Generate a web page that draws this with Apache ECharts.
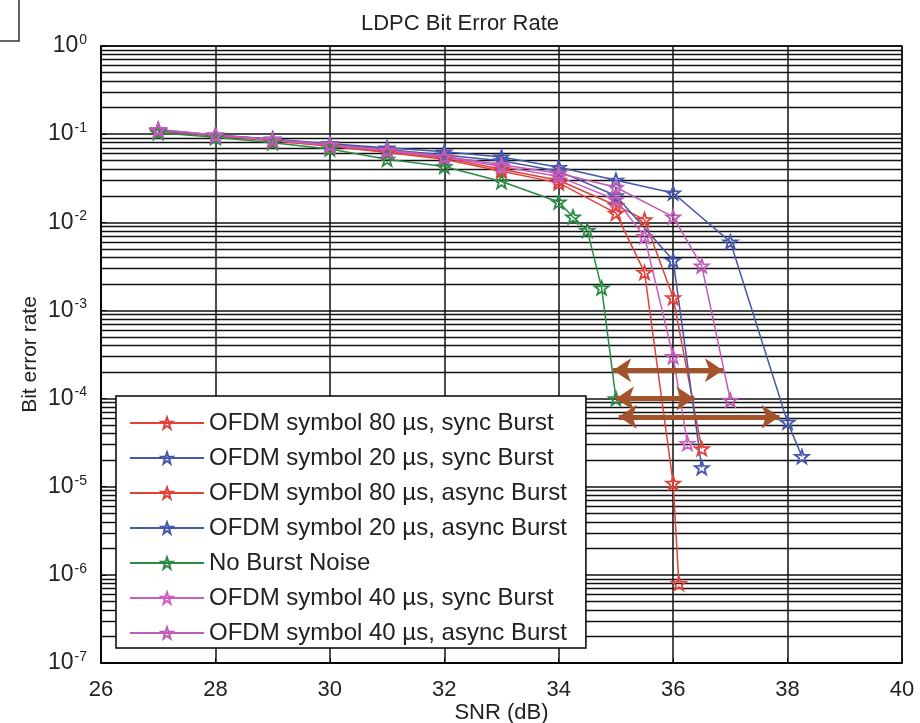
<!DOCTYPE html>
<html>
<head>
<meta charset="utf-8">
<script src="https://cdn.jsdelivr.net/npm/echarts@6/dist/echarts.min.js"></script>
<style>
  html, body { margin: 0; padding: 0; background: #fff; }
  #chart { width: 920px; height: 723px; }
</style>
</head>
<body>
<div id="chart"></div>
<script>
// series names (legend order)
var seriesNames = [
  'OFDM symbol 80 \u00b5s, sync Burst',
  'OFDM symbol 20 \u00b5s, sync Burst',
  'OFDM symbol 80 \u00b5s, async Burst',
  'OFDM symbol 20 \u00b5s, async Burst',
  'No Burst Noise',
  'OFDM symbol 40 \u00b5s, sync Burst',
  'OFDM symbol 40 \u00b5s, async Burst'
];
var seriesColors = ['#e2413a', '#4757ab', '#e2413a', '#4757ab', '#2b8a45', '#cc5ec2', '#c05cb6'];

// SNR (dB) values per curve
var snr80sync  = [27, 28, 29, 30, 31, 32, 33, 34, 35, 35.5, 36, 36.1];
var snr20sync  = [27, 28, 29, 30, 31, 32, 33, 34, 35, 36, 37, 38, 38.25];
var snr80async = [27, 28, 29, 30, 31, 32, 33, 34, 35, 35.5, 36, 36.5];
var snr20async = [27, 28, 29, 30, 31, 32, 33, 34, 35, 36, 36.5];
var snrNoBurst = [27, 28, 29, 30, 31, 32, 33, 34, 34.25, 34.5, 34.75, 35];
var snr40sync  = [27, 28, 29, 30, 31, 32, 33, 34, 35, 35.5, 36, 36.25];
var snr40async = [27, 28, 29, 30, 31, 32, 33, 34, 35, 36, 36.5, 37];

// bit error rate per curve
var ber80sync  = [0.108, 0.095, 0.084, 0.073, 0.062, 0.052, 0.038, 0.028, 0.0127, 0.0027, 1.1e-5, 8e-7];
var ber20sync  = [0.112, 0.098, 0.088, 0.078, 0.070, 0.063, 0.055, 0.042, 0.030, 0.0215, 0.006, 5.4e-5, 2.2e-5];
var ber80async = [0.110, 0.096, 0.085, 0.074, 0.063, 0.054, 0.040, 0.030, 0.0155, 0.0107, 0.0014, 2.7e-5];
var ber20async = [0.110, 0.097, 0.087, 0.077, 0.067, 0.058, 0.050, 0.038, 0.020, 0.0037, 1.65e-5];
var berNoBurst = [0.104, 0.092, 0.080, 0.068, 0.052, 0.043, 0.029, 0.017, 0.0115, 0.0081, 0.0018, 1.0e-4];
var ber40sync  = [0.112, 0.097, 0.086, 0.075, 0.065, 0.055, 0.043, 0.033, 0.018, 0.0069, 3.0e-4, 3.1e-5];
var ber40async = [0.113, 0.098, 0.087, 0.076, 0.066, 0.056, 0.045, 0.036, 0.025, 0.0115, 0.0032, 9.6e-5];

var snrList = [snr80sync, snr20sync, snr80async, snr20async, snrNoBurst, snr40sync, snr40async];
var berList = [ber80sync, ber20sync, ber80async, ber20async, berNoBurst, ber40sync, ber40async];

// brown double arrows: [snrStart, snrEnd, ber]
var arrowLines = [
  [34.95, 36.87, 2.1e-4],
  [35.0, 36.37, 1.0e-4],
  [35.05, 37.86, 6.2e-5]
];

var snrMin = 26, snrMax = 40;

var starPath = 'path://M0,-10L2.35,-3.24L9.51,-3.09L3.8,1.24L5.88,8.09L0,4L-5.88,8.09L-3.8,1.24L-9.51,-3.09L-2.35,-3.24Z';

var chart = echarts.init(document.getElementById('chart'));

// minor log grid lines (2..9 of each decade), drawn through the axes
var minorLines = [];
for (var k = -7; k <= -1; k++) {
  for (var m = 2; m <= 9; m++) {
    var v = m * Math.pow(10, k);
    minorLines.push({ coords: [[snrMin, v], [snrMax, v]] });
  }
}

var series = [];
series.push({
  name: 'minor grid',
  type: 'lines',
  coordinateSystem: 'cartesian2d',
  silent: true,
  z: 1,
  lineStyle: { color: '#111', width: 1.4, opacity: 1 },
  data: minorLines
});

for (var i = 0; i < seriesNames.length; i++) {
  var pts = [];
  for (var j = 0; j < snrList[i].length; j++) {
    pts.push([snrList[i][j], berList[i][j]]);
  }
  series.push({
    name: seriesNames[i],
    type: 'line',
    data: pts,
    z: 3,
    color: seriesColors[i],
    symbol: starPath,
    symbolSize: 14,
    symbolKeepAspect: true,
    showAllSymbol: true,
    lineStyle: { color: seriesColors[i], width: 1.5 },
    itemStyle: { color: 'rgba(255,255,255,0)', borderColor: seriesColors[i], borderWidth: 1.8 }
  });
}

// arrows
series.push({
  name: 'arrows',
  type: 'lines',
  coordinateSystem: 'cartesian2d',
  silent: true,
  z: 5,
  symbol: ['arrow', 'arrow'],
  symbolSize: 18,
  lineStyle: { color: '#a3532a', width: 5, opacity: 1 },
  data: arrowLines.map(function (a) {
    return { coords: [[a[0], a[2]], [a[1], a[2]]] };
  })
});

var option = {
  animation: false,
  backgroundColor: '#fff',
  textStyle: { fontFamily: 'Liberation Sans, Arial, sans-serif' },
  title: {
    text: 'LDPC Bit Error Rate',
    left: 'center',
    top: 8,
    textStyle: { fontSize: 22, fontWeight: 'normal', color: '#222' }
  },
  grid: {
    left: 101, right: 18, top: 46, bottom: 60,
    outerBoundsMode: 'none',
    show: true, borderColor: '#000', borderWidth: 1.5
  },
  legend: {
    data: seriesNames,
    orient: 'vertical',
    left: 116,
    top: 396,
    padding: [15, 19, 3, 13],
    itemWidth: 74,
    itemHeight: 14,
    itemGap: 11,
    backgroundColor: '#fff',
    borderColor: '#000',
    borderWidth: 1.5,
    borderRadius: 0,
    textStyle: { fontSize: 24, color: '#222', lineHeight: 24 }
  },
  xAxis: {
    type: 'value',
    min: snrMin, max: snrMax, interval: 2,
    name: 'SNR (dB)',
    nameLocation: 'middle',
    nameGap: 39,
    nameMoveOverlap: false,
    nameTextStyle: { fontSize: 22, color: '#222' },
    axisLine: { lineStyle: { color: '#000', width: 1.5 } },
    axisTick: { inside: true, length: 5, lineStyle: { color: '#000' } },
    axisLabel: { fontSize: 22, color: '#222', margin: 16 },
    splitLine: { show: true, lineStyle: { color: '#111', width: 1.5 } }
  },
  yAxis: {
    type: 'log',
    logBase: 10,
    min: 1e-7, max: 1,
    interval: 1,
    name: 'Bit error rate',
    nameLocation: 'middle',
    nameGap: 60,
    nameMoveOverlap: false,
    nameTextStyle: { fontSize: 21, color: '#222' },
    axisLine: { lineStyle: { color: '#000', width: 1.5 } },
    axisTick: { inside: true, length: 5, lineStyle: { color: '#000' } },
    axisLabel: {
      margin: 14,
      color: '#222',
      formatter: function (v) {
        var e = Math.round(Math.log(v) / Math.LN10);
        return '{b|10}{s|' + e + '}';
      },
      rich: {
        b: { fontSize: 23, color: '#222' },
        s: { fontSize: 14, color: '#222', verticalAlign: 'top', padding: [0, 0, 12, 1] }
      }
    },
    splitLine: { show: true, lineStyle: { color: '#111', width: 1.5 } }
  },
  graphic: [{
    type: 'polyline',
    shape: { points: [[0, 41], [19, 41], [19, 0]] },
    style: { stroke: '#333', lineWidth: 1.5, fill: null }
  }],
  series: series
};

chart.setOption(option);
</script>
</body>
</html>
